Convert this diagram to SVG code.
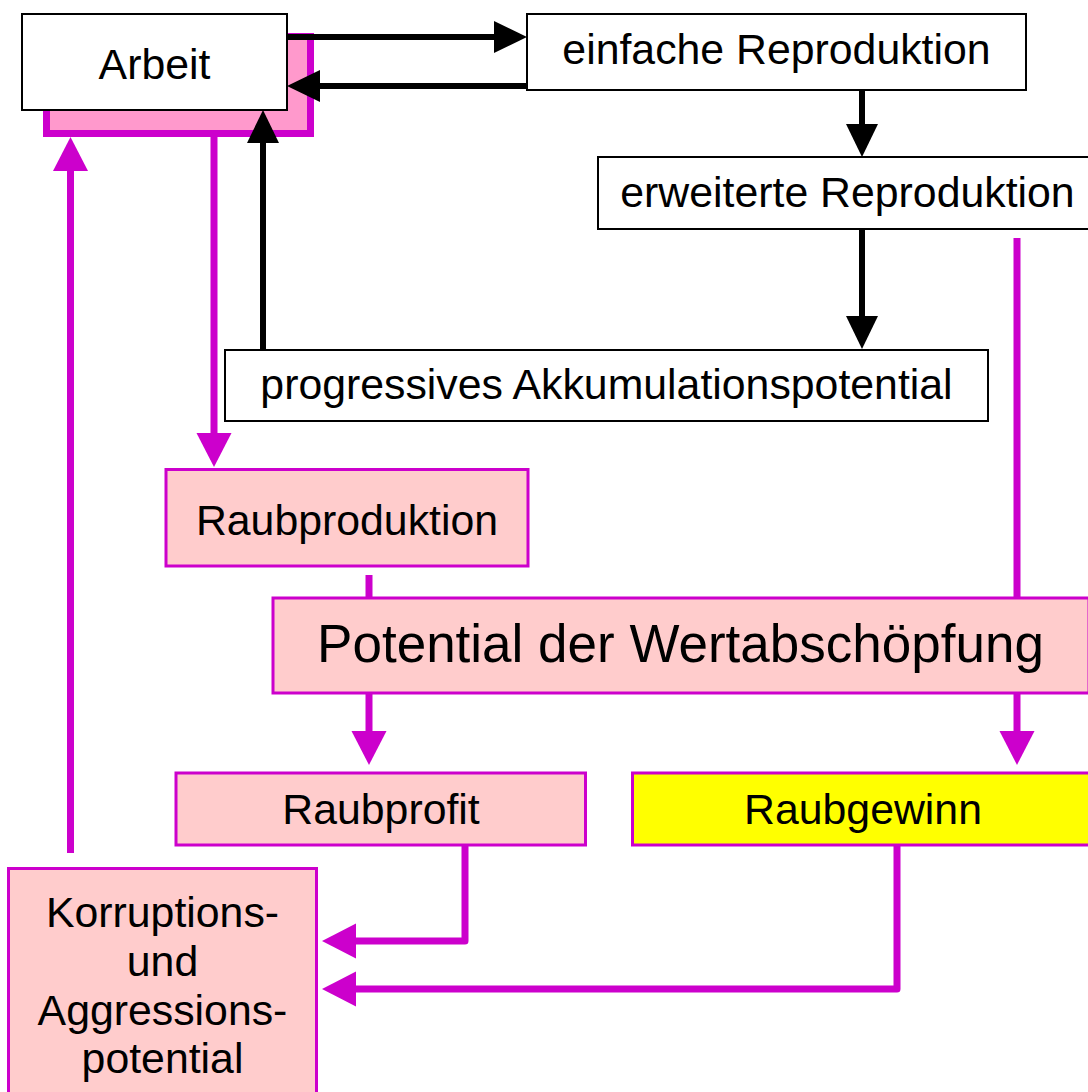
<svg xmlns="http://www.w3.org/2000/svg" width="1088" height="1092" viewBox="0 0 1088 1092">
<style>
.bx{fill:#fff;stroke:#000;stroke-width:2}
.pk{fill:#FFCCCC;stroke:#CC00CC;stroke-width:3}
.yl{fill:#FFFF00;stroke:#CC00CC;stroke-width:3}
.t{font-family:"Liberation Sans",Arial,sans-serif;font-size:42.8px;fill:#000;text-anchor:middle}
.cb{fill:none;stroke:#000;stroke-width:6}
.cm{fill:none;stroke:#CC00CC;stroke-width:7;stroke-linejoin:round}
</style>
<defs>
<marker id="ab" viewBox="-1 -17 34 34" markerWidth="34" markerHeight="34" refX="0" refY="0" orient="auto" markerUnits="userSpaceOnUse"><path d="M-1,-16 L32,0 L-1,16 z" fill="#000"/></marker>
<marker id="am" viewBox="-1 -18 35 36" markerWidth="35" markerHeight="36" refX="0" refY="0" orient="auto" markerUnits="userSpaceOnUse"><path d="M-1,-17.5 L33,0 L-1,17.5 z" fill="#CC00CC"/></marker>
</defs>
<g id="arbeit">
<rect x="46.5" y="36.5" width="264" height="97" fill="#FF99CC" stroke="#CC00CC" stroke-width="7"/>
<rect class="bx" x="22" y="14" width="265" height="96"/>
<text class="t" x="154.5" y="79">Arbeit</text>
</g>
<g id="einfache">
<rect class="bx" x="527" y="14" width="499" height="76"/>
<text class="t" x="776.5" y="64">einfache Reproduktion</text>
</g>
<g id="erweiterte">
<rect class="bx" x="598" y="157" width="499" height="72"/>
<text class="t" x="847.5" y="207">erweiterte Reproduktion</text>
</g>
<g id="progressiv">
<rect class="bx" x="225" y="350" width="763" height="71"/>
<text class="t" x="606.5" y="399">progressives Akkumulationspotential</text>
</g>
<g id="raubproduktion">
<rect class="pk" x="166" y="469.5" width="362" height="96.5"/>
<text class="t" x="347" y="535">Raubproduktion</text>
</g>
<g id="potential">
<rect class="pk" x="273" y="598" width="816" height="95"/>
<text class="t" x="680.5" y="662" style="font-size:53px">Potential der Wertabschöpfung</text>
</g>
<g id="raubprofit">
<rect class="pk" x="176" y="773" width="409.5" height="72"/>
<text class="t" x="381" y="824">Raubprofit</text>
</g>
<g id="raubgewinn">
<rect class="yl" x="632.5" y="773" width="462" height="72"/>
<text class="t" x="863" y="824">Raubgewinn</text>
</g>
<g id="korruption">
<rect class="pk" x="8.5" y="868.5" width="308" height="240"/>
<text class="t" x="162.5" y="927">Korruptions-</text>
<text class="t" x="162.5" y="976">und</text>
<text class="t" x="162.5" y="1025">Aggressions-</text>
<text class="t" x="162.5" y="1073">potential</text>
</g>
<g id="connectors">
<path class="cb" d="M287,37 H495" marker-end="url(#ab)"/>
<path class="cb" d="M527,86 H319" marker-end="url(#ab)"/>
<path class="cb" d="M862,90 V125" marker-end="url(#ab)"/>
<path class="cb" d="M862,229 V317" marker-end="url(#ab)"/>
<path class="cb" d="M263,350 V142" marker-end="url(#ab)"/>
<path class="cm" d="M214,137 V434" marker-end="url(#am)"/>
<path class="cm" d="M369,575 V598"/>
<path class="cm" d="M369,693 V732" marker-end="url(#am)"/>
<path class="cm" d="M1017,238 V598"/>
<path class="cm" d="M1017,693 V732" marker-end="url(#am)"/>
<path class="cm" d="M465,845 V941 H355" marker-end="url(#am)"/>
<path class="cm" d="M897,845 V989 H355" marker-end="url(#am)"/>
<path class="cm" d="M70.5,853 V170" marker-end="url(#am)"/>
</g>
</svg>
